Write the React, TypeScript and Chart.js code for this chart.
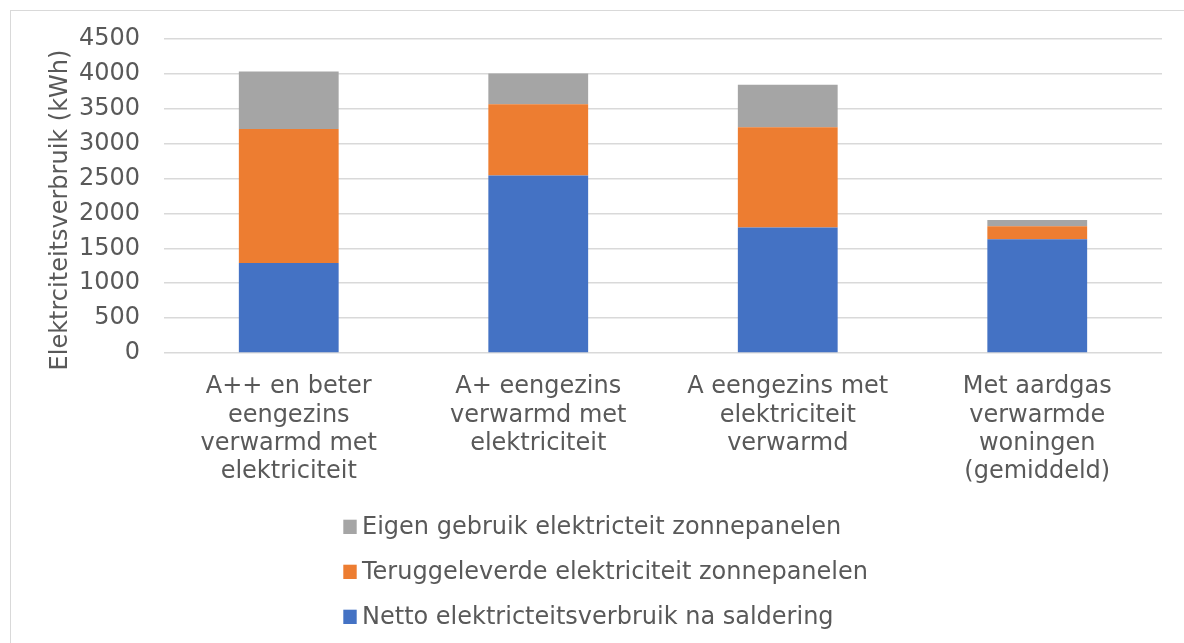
import React, { useEffect, useRef } from "react";
import { Chart, registerables } from "chart.js";

Chart.register(...registerables);

// ---- data ----
const categories: string[][] = [
  ["A++ en beter", "eengezins", "verwarmd met", "elektriciteit"],
  ["A+ eengezins", "verwarmd met", "elektriciteit"],
  ["A eengezins met", "elektriciteit", "verwarmd"],
  ["Met aardgas", "verwarmde", "woningen", "(gemiddeld)"],
];
const nettoVerbruik = [1290, 2545, 1800, 1630];
const teruggeleverd = [1920, 1020, 1435, 185];
const eigenGebruik = [825, 440, 610, 90];
const yTicks = [0, 500, 1000, 1500, 2000, 2500, 3000, 3500, 4000, 4500];
const seriesLabels = [
  "Netto elektricteitsverbruik na saldering",
  "Teruggeleverde elektriciteit zonnepanelen",
  "Eigen gebruik elektricteit zonnepanelen",
];
const seriesColors = ["#4472C4", "#ED7D31", "#A5A5A5"];
const yAxisTitle = "Elektrciteitsverbruik (kWh)";

// ---- styling ----
const FONT = '"DejaVu Sans", Verdana, sans-serif';
const TEXT = "#595959";
const GRID = "#D9D9D9";

const overlayPlugin = {
  id: "overlay",
  afterDraw(chart: any) {
    const ctx = chart.ctx as CanvasRenderingContext2D;
    const area = chart.chartArea;
    // y axis title
    ctx.save();
    ctx.fillStyle = TEXT;
    ctx.font = `24px ${FONT}`;
    ctx.translate(56, (area.top + area.bottom) / 2 + 14);
    ctx.rotate(-Math.PI / 2);
    ctx.textAlign = "center";
    ctx.textBaseline = "alphabetic";
    ctx.fillText(yAxisTitle, 0, 0);
    ctx.restore();

    // legend (reverse order, vertical)
    ctx.save();
    ctx.font = `24px ${FONT}`;
    ctx.textAlign = "left";
    ctx.textBaseline = "alphabetic";
    const left = 332.3;
    const order = [2, 1, 0];
    order.forEach((di, row) => {
      const ds = chart.data.datasets[di];
      const baseY = area.bottom + 181 + row * 45;
      ctx.fillStyle = ds.backgroundColor as string;
      ctx.fillRect(left, baseY - 14.3, 13.4, 14.3);
      ctx.fillStyle = TEXT;
      ctx.fillText(ds.label, left + 18.7, baseY);
    });
    ctx.restore();
  },
};

export default function App() {
  const ref = useRef<HTMLCanvasElement | null>(null);

  useEffect(() => {
    if (!ref.current) return;
    const values = [nettoVerbruik, teruggeleverd, eigenGebruik];
    const chart = new Chart(ref.current, {
      type: "bar",
      data: {
        labels: categories,
        datasets: values.map((v, i) => ({
          label: seriesLabels[i],
          data: v,
          backgroundColor: seriesColors[i],
          borderWidth: 0,
          barPercentage: 0.4,
          categoryPercentage: 1,
        })),
      },
      options: {
        animation: false,
        responsive: true,
        maintainAspectRatio: false,
        events: [],
        layout: { padding: { left: 0, right: 22, top: 28, bottom: 140 } },
        plugins: {
          legend: { display: false },
          tooltip: { enabled: false },
          title: { display: false },
        },
        scales: {
          x: {
            stacked: true,
            grid: { display: false, drawTicks: false },
            border: { display: false },
            ticks: {
              color: TEXT,
              font: { family: FONT, size: 24, lineHeight: 1.18 },
              padding: 20,
              maxRotation: 0,
              autoSkip: false,
            },
            afterFit: (scale: any) => {
              scale.height = 150;
              scale.paddingLeft = 0;
              scale.paddingRight = 0;
            },
          },
          y: {
            stacked: true,
            min: 0,
            max: 4500,
            afterBuildTicks: (scale: any) => {
              scale.ticks = yTicks.map((v) => ({ value: v }));
            },
            grid: { color: GRID, lineWidth: 1.5, drawTicks: false },
            border: { display: false },
            ticks: {
              color: TEXT,
              font: { family: FONT, size: 24 },
              padding: 24,
              callback: (v: any) => String(v),
            },
            afterFit: (scale: any) => {
              scale.width = 153;
              scale.paddingTop = 0;
              scale.paddingBottom = 0;
            },
          },
        },
      },
      plugins: [overlayPlugin],
    });
    return () => chart.destroy();
  }, []);

  return (
    <div
      style={{
        position: "absolute",
        left: 10,
        top: 10,
        width: 1174,
        height: 633,
        boxSizing: "border-box",
        borderTop: "1px solid #D9D9D9",
        borderLeft: "1px solid #D9D9D9",
        background: "#FFFFFF",
        overflow: "hidden",
      }}
    >
      <canvas ref={ref} />
    </div>
  );
}
